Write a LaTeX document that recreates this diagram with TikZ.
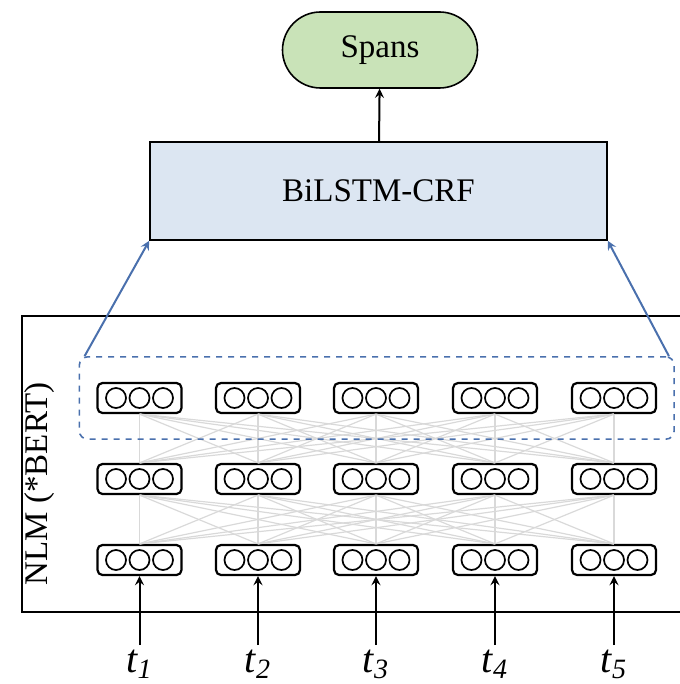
\documentclass[tikz,border=0pt]{standalone}
\usepackage{fontspec}
\setmainfont{Liberation Serif}
\usetikzlibrary{arrows, positioning, fit, calc}

\definecolor{spansgreen}{HTML}{C9E3B8}
\definecolor{crfblue}{HTML}{DCE6F2}
\definecolor{linkblue}{HTML}{4A70AD}
\definecolor{meshgray}{HTML}{D9D9D9}

\tikzset{
  vec/.style={draw, rounded corners=2.5pt, line width=1.1pt, fill=white,
    minimum width=42pt, minimum height=15pt, inner sep=0pt},
  unit/.style={line width=0.85pt},
  mesh/.style={draw=meshgray, line width=0.6pt},
  feed/.style={-stealth, line width=1pt},
  lift/.style={-stealth, draw=linkblue, line width=1pt},
  bigtext/.style={font=\fontsize{16.5}{19}\selectfont},
}

\begin{document}
\begin{tikzpicture}[x=0.5pt, y=-0.5pt]
  \useasboundingbox (0,0) rectangle (679,684);

  % output and tagger
  \node[draw, fill=spansgreen, rounded corners=19pt, line width=0.8pt,
        minimum width=97.5pt, minimum height=38pt, bigtext] (spans) at (380,50) {Spans};
  \node[draw, fill=crfblue, line width=0.8pt, minimum width=228.5pt,
        minimum height=49pt, bigtext] (crf) at (378.5,191) {BiLSTM-CRF};
  \draw[feed] (crf) -- (spans);

  % language model frame
  \draw[line width=0.8pt] (690,316) -- (22,316) -- (22,612) -- (690,612);
  \node[rotate=90, bigtext] (nlm) at (40,484) {NLM (*BERT)};

  % three layers of token vectors
  \foreach \r/\y in {1/398, 2/479, 3/560}
    \foreach \c/\x in {1/139.5, 2/258, 3/376, 4/495, 5/614} {
      \node[vec] (v-\r-\c) at (\x,\y) {};
      \foreach \k in {-1,0,1}
        \draw[unit] (v-\r-\c.center) ++(\k*23.5,0) circle (5pt);
    }

  % full connections between layers
  \foreach \r/\s in {1/2, 2/3}
    \foreach \c in {1,...,5}
      \foreach \d in {1,...,5}
        \draw[mesh] (v-\r-\c.south) -- (v-\s-\d.north);

  % selected top layer
  \node[draw=linkblue, dashed, rounded corners=4pt, line width=0.8pt,
        inner xsep=8.5pt, inner ysep=12.5pt, fit=(v-1-1)(v-1-5)] (sel) {};
  \draw[lift] ([xshift=3pt]sel.north west) -- (crf.south west);
  \draw[lift] ([xshift=-3pt]sel.north east) -- (crf.south east);

  % input tokens
  \foreach \c/\x in {1/139.5, 2/258, 3/376, 4/495, 5/614} {
    \node[font=\fontsize{20}{24}\selectfont\itshape, inner sep=2pt] (t\c) at (\x,664)
      {t\textsubscript{\c}};
    \draw[feed] (t\c.north) -- (v-3-\c.south);
  }
\end{tikzpicture}
\end{document}
